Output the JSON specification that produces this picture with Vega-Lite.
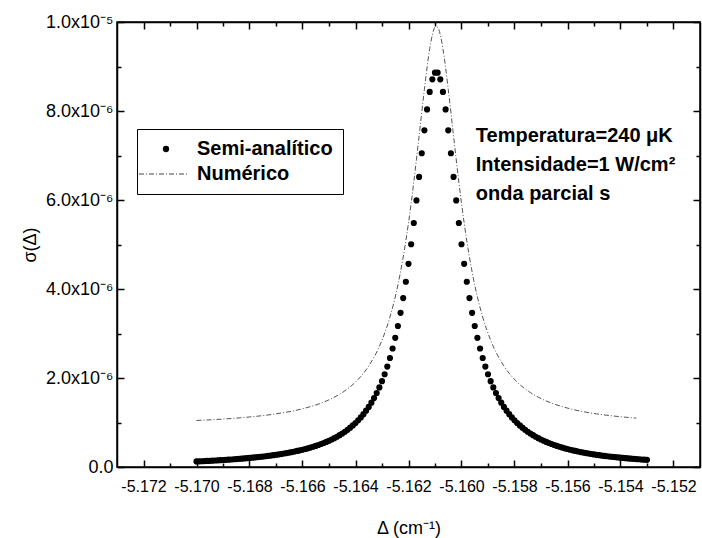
{
  "$schema": "https://vega.github.io/schema/vega-lite/v6.json",
  "width": 583,
  "height": 445,
  "autosize": {"type": "none"},
  "padding": {"left": 117, "top": 22, "right": 2, "bottom": 71},
  "background": "white",
  "config": {
    "font": "Liberation Sans",
    "view": {"stroke": "black", "strokeWidth": 1.5},
    "axis": {"grid": false, "domain": false, "domainColor": "black", "domainWidth": 1.5, "labelFont": "Liberation Sans", "titleFont": "Liberation Sans", "labelColor": "black", "titleColor": "black", "tickColor": "black", "tickWidth": 1.5}
  },
  "datasets": {
    "semi": [
      {"delta":-5.1700,"sigma":0.125e-6},{"delta":-5.1699,"sigma":0.127e-6},{"delta":-5.1698,"sigma":0.130e-6},{"delta":-5.1697,"sigma":0.133e-6},{"delta":-5.1696,"sigma":0.136e-6},
      {"delta":-5.1695,"sigma":0.139e-6},{"delta":-5.1694,"sigma":0.143e-6},{"delta":-5.1693,"sigma":0.146e-6},{"delta":-5.1692,"sigma":0.150e-6},{"delta":-5.1691,"sigma":0.153e-6},
      {"delta":-5.1690,"sigma":0.157e-6},{"delta":-5.1689,"sigma":0.161e-6},{"delta":-5.1688,"sigma":0.165e-6},{"delta":-5.1687,"sigma":0.169e-6},{"delta":-5.1686,"sigma":0.174e-6},
      {"delta":-5.1685,"sigma":0.178e-6},{"delta":-5.1684,"sigma":0.183e-6},{"delta":-5.1683,"sigma":0.188e-6},{"delta":-5.1682,"sigma":0.193e-6},{"delta":-5.1681,"sigma":0.198e-6},
      {"delta":-5.1680,"sigma":0.204e-6},{"delta":-5.1679,"sigma":0.209e-6},{"delta":-5.1678,"sigma":0.215e-6},{"delta":-5.1677,"sigma":0.222e-6},{"delta":-5.1676,"sigma":0.228e-6},
      {"delta":-5.1675,"sigma":0.235e-6},{"delta":-5.1674,"sigma":0.242e-6},{"delta":-5.1673,"sigma":0.250e-6},{"delta":-5.1672,"sigma":0.257e-6},{"delta":-5.1671,"sigma":0.266e-6},
      {"delta":-5.1670,"sigma":0.274e-6},{"delta":-5.1669,"sigma":0.283e-6},{"delta":-5.1668,"sigma":0.293e-6},{"delta":-5.1667,"sigma":0.303e-6},{"delta":-5.1666,"sigma":0.313e-6},
      {"delta":-5.1665,"sigma":0.324e-6},{"delta":-5.1664,"sigma":0.336e-6},{"delta":-5.1663,"sigma":0.348e-6},{"delta":-5.1662,"sigma":0.361e-6},{"delta":-5.1661,"sigma":0.374e-6},
      {"delta":-5.1660,"sigma":0.388e-6},{"delta":-5.1659,"sigma":0.404e-6},{"delta":-5.1658,"sigma":0.420e-6},{"delta":-5.1657,"sigma":0.437e-6},{"delta":-5.1656,"sigma":0.455e-6},
      {"delta":-5.1655,"sigma":0.474e-6},{"delta":-5.1654,"sigma":0.494e-6},{"delta":-5.1653,"sigma":0.516e-6},{"delta":-5.1652,"sigma":0.539e-6},{"delta":-5.1651,"sigma":0.563e-6},
      {"delta":-5.1650,"sigma":0.590e-6},{"delta":-5.1649,"sigma":0.618e-6},{"delta":-5.1648,"sigma":0.648e-6},{"delta":-5.1647,"sigma":0.680e-6},{"delta":-5.1646,"sigma":0.715e-6},
      {"delta":-5.1645,"sigma":0.752e-6},{"delta":-5.1644,"sigma":0.793e-6},{"delta":-5.1643,"sigma":0.836e-6},{"delta":-5.1642,"sigma":0.883e-6},{"delta":-5.1641,"sigma":0.934e-6},
      {"delta":-5.1640,"sigma":0.989e-6},{"delta":-5.1639,"sigma":1.050e-6},{"delta":-5.1638,"sigma":1.115e-6},{"delta":-5.1637,"sigma":1.187e-6},{"delta":-5.1636,"sigma":1.265e-6},
      {"delta":-5.1635,"sigma":1.351e-6},{"delta":-5.1634,"sigma":1.445e-6},{"delta":-5.1633,"sigma":1.549e-6},{"delta":-5.1632,"sigma":1.663e-6},{"delta":-5.1631,"sigma":1.789e-6},
      {"delta":-5.1630,"sigma":1.929e-6},{"delta":-5.1629,"sigma":2.085e-6},{"delta":-5.1628,"sigma":2.257e-6},{"delta":-5.1627,"sigma":2.449e-6},{"delta":-5.1626,"sigma":2.663e-6},
      {"delta":-5.1625,"sigma":2.902e-6},{"delta":-5.1624,"sigma":3.169e-6},{"delta":-5.1623,"sigma":3.465e-6},{"delta":-5.1622,"sigma":3.796e-6},{"delta":-5.1621,"sigma":4.162e-6},
      {"delta":-5.1620,"sigma":4.565e-6},{"delta":-5.1619,"sigma":5.006e-6},{"delta":-5.1618,"sigma":5.483e-6},{"delta":-5.1617,"sigma":5.991e-6},{"delta":-5.1616,"sigma":6.519e-6},
      {"delta":-5.1615,"sigma":7.051e-6},{"delta":-5.1614,"sigma":7.566e-6},{"delta":-5.1613,"sigma":8.036e-6},{"delta":-5.1612,"sigma":8.428e-6},{"delta":-5.1611,"sigma":8.712e-6},
      {"delta":-5.1610,"sigma":8.861e-6},
      {"delta":-5.1609,"sigma":8.861e-6},{"delta":-5.1608,"sigma":8.712e-6},{"delta":-5.1607,"sigma":8.428e-6},{"delta":-5.1606,"sigma":8.036e-6},{"delta":-5.1605,"sigma":7.566e-6},
      {"delta":-5.1604,"sigma":7.051e-6},{"delta":-5.1603,"sigma":6.519e-6},{"delta":-5.1602,"sigma":5.991e-6},{"delta":-5.1601,"sigma":5.483e-6},{"delta":-5.1600,"sigma":5.006e-6},
      {"delta":-5.1599,"sigma":4.565e-6},{"delta":-5.1598,"sigma":4.162e-6},{"delta":-5.1597,"sigma":3.796e-6},{"delta":-5.1596,"sigma":3.465e-6},{"delta":-5.1595,"sigma":3.169e-6},
      {"delta":-5.1594,"sigma":2.902e-6},{"delta":-5.1593,"sigma":2.663e-6},{"delta":-5.1592,"sigma":2.449e-6},{"delta":-5.1591,"sigma":2.257e-6},{"delta":-5.1590,"sigma":2.085e-6},
      {"delta":-5.1589,"sigma":1.929e-6},{"delta":-5.1588,"sigma":1.789e-6},{"delta":-5.1587,"sigma":1.663e-6},{"delta":-5.1586,"sigma":1.549e-6},{"delta":-5.1585,"sigma":1.445e-6},
      {"delta":-5.1584,"sigma":1.351e-6},{"delta":-5.1583,"sigma":1.265e-6},{"delta":-5.1582,"sigma":1.187e-6},{"delta":-5.1581,"sigma":1.115e-6},{"delta":-5.1580,"sigma":1.050e-6},
      {"delta":-5.1579,"sigma":0.989e-6},{"delta":-5.1578,"sigma":0.934e-6},{"delta":-5.1577,"sigma":0.883e-6},{"delta":-5.1576,"sigma":0.836e-6},{"delta":-5.1575,"sigma":0.793e-6},
      {"delta":-5.1574,"sigma":0.752e-6},{"delta":-5.1573,"sigma":0.715e-6},{"delta":-5.1572,"sigma":0.680e-6},{"delta":-5.1571,"sigma":0.648e-6},{"delta":-5.1570,"sigma":0.618e-6},
      {"delta":-5.1569,"sigma":0.590e-6},{"delta":-5.1568,"sigma":0.563e-6},{"delta":-5.1567,"sigma":0.539e-6},{"delta":-5.1566,"sigma":0.516e-6},{"delta":-5.1565,"sigma":0.494e-6},
      {"delta":-5.1564,"sigma":0.474e-6},{"delta":-5.1563,"sigma":0.455e-6},{"delta":-5.1562,"sigma":0.437e-6},{"delta":-5.1561,"sigma":0.420e-6},{"delta":-5.1560,"sigma":0.404e-6},
      {"delta":-5.1559,"sigma":0.388e-6},{"delta":-5.1558,"sigma":0.374e-6},{"delta":-5.1557,"sigma":0.361e-6},{"delta":-5.1556,"sigma":0.348e-6},{"delta":-5.1555,"sigma":0.336e-6},
      {"delta":-5.1554,"sigma":0.324e-6},{"delta":-5.1553,"sigma":0.313e-6},{"delta":-5.1552,"sigma":0.303e-6},{"delta":-5.1551,"sigma":0.293e-6},{"delta":-5.1550,"sigma":0.283e-6},
      {"delta":-5.1549,"sigma":0.274e-6},{"delta":-5.1548,"sigma":0.266e-6},{"delta":-5.1547,"sigma":0.257e-6},{"delta":-5.1546,"sigma":0.250e-6},{"delta":-5.1545,"sigma":0.242e-6},
      {"delta":-5.1544,"sigma":0.235e-6},{"delta":-5.1543,"sigma":0.228e-6},{"delta":-5.1542,"sigma":0.222e-6},{"delta":-5.1541,"sigma":0.215e-6},{"delta":-5.1540,"sigma":0.209e-6},
      {"delta":-5.1539,"sigma":0.204e-6},{"delta":-5.1538,"sigma":0.198e-6},{"delta":-5.1537,"sigma":0.193e-6},{"delta":-5.1536,"sigma":0.188e-6},{"delta":-5.1535,"sigma":0.183e-6},
      {"delta":-5.1534,"sigma":0.178e-6},{"delta":-5.1533,"sigma":0.174e-6},{"delta":-5.1532,"sigma":0.169e-6},{"delta":-5.1531,"sigma":0.165e-6},{"delta":-5.1530,"sigma":0.161e-6}
    ],
    "num": [
      {"delta":-5.1700,"sigma":1.045e-6},{"delta":-5.1690,"sigma":1.077e-6},{"delta":-5.1680,"sigma":1.124e-6},{"delta":-5.1670,"sigma":1.194e-6},
      {"delta":-5.1660,"sigma":1.308e-6},{"delta":-5.1650,"sigma":1.510e-6},{"delta":-5.1645,"sigma":1.672e-6},{"delta":-5.1640,"sigma":1.909e-6},
      {"delta":-5.1635,"sigma":2.271e-6},{"delta":-5.1630,"sigma":2.849e-6},{"delta":-5.1627,"sigma":3.369e-6},{"delta":-5.1624,"sigma":4.089e-6},
      {"delta":-5.1622,"sigma":4.716e-6},{"delta":-5.1620,"sigma":5.485e-6},{"delta":-5.1618,"sigma":6.403e-6},{"delta":-5.1616,"sigma":7.439e-6},
      {"delta":-5.1614,"sigma":8.486e-6},{"delta":-5.1612,"sigma":9.40e-6},{"delta":-5.1611,"sigma":9.71e-6},{"delta":-5.1610,"sigma":9.88e-6},
      {"delta":-5.1609,"sigma":9.88e-6},{"delta":-5.1608,"sigma":9.71e-6},{"delta":-5.1607,"sigma":9.40e-6},{"delta":-5.1605,"sigma":8.486e-6},
      {"delta":-5.1603,"sigma":7.439e-6},{"delta":-5.1601,"sigma":6.403e-6},{"delta":-5.1599,"sigma":5.485e-6},{"delta":-5.1597,"sigma":4.716e-6},
      {"delta":-5.1595,"sigma":4.089e-6},{"delta":-5.1592,"sigma":3.369e-6},{"delta":-5.1589,"sigma":2.849e-6},{"delta":-5.1584,"sigma":2.271e-6},
      {"delta":-5.1579,"sigma":1.909e-6},{"delta":-5.1574,"sigma":1.672e-6},{"delta":-5.1569,"sigma":1.510e-6},{"delta":-5.1559,"sigma":1.308e-6},
      {"delta":-5.1549,"sigma":1.194e-6},{"delta":-5.1539,"sigma":1.124e-6},{"delta":-5.1534,"sigma":1.098e-6}
    ]
  },
  "layer": [
    {
      "data": {"name": "semi"},
      "mark": {"type": "point", "filled": true, "size": 38, "color": "black", "opacity": 1},
      "encoding": {
        "x": {"field": "delta", "type": "quantitative",
          "scale": {"domain": [-5.173, -5.151], "nice": false, "zero": false},
          "axis": {"orient": "bottom", "values": [-5.172, -5.17, -5.168, -5.166, -5.164, -5.162, -5.16, -5.158, -5.156, -5.154, -5.152],
            "domain": true, "ticks": false, "labelExpr": "'-' + format(-datum.value, '.3f')", "labelFontSize": 16, "labelPadding": 11,
            "labelFlush": false, "labelOverlap": false, "title": "Δ (cm⁻¹)", "titleFontSize": 18, "titleFontWeight": "normal", "titlePadding": 25}},
        "y": {"field": "sigma", "type": "quantitative",
          "scale": {"domain": [0, 1e-5], "nice": false, "zero": false},
          "axis": {"orient": "left", "values": [0, 2e-6, 4e-6, 6e-6, 8e-6, 1e-5], "domain": true, "ticks": false,
            "labelExpr": "datum.value === 0 ? '0.0' : (datum.value > 9.5e-6 ? '1.0x10⁻⁵' : format(datum.value * 1e6, '.1f') + 'x10⁻⁶')",
            "labelFontSize": 18, "labelPadding": 4, "labelFlush": false, "labelOverlap": false,
            "title": "σ(Δ)", "titleFontSize": 18, "titleFontWeight": "normal", "titlePadding": 6}},
        "shape": {"datum": "Semi-analítico", "type": "nominal",
          "scale": {"domain": ["Semi-analítico", "Numérico"], "range": ["circle", "M0,0"]},
          "legend": {"orient": "none", "legendX": 20, "legendY": 107, "title": null, "padding": 10,
            "strokeColor": "black", "fillColor": "white", "cornerRadius": 0, "zindex": 1,
            "labelFont": "Liberation Sans", "labelFontSize": 20, "labelFontWeight": "bold", "labelColor": "black",
            "symbolSize": 40, "symbolOffset": 9, "labelOffset": 21, "rowPadding": 5}}
      }
    },
    {
      "data": {"name": "num"},
      "mark": {"type": "line", "color": "#555555", "strokeWidth": 1, "interpolate": "monotone"},
      "encoding": {
        "x": {"field": "delta", "type": "quantitative",
          "axis": {"orient": "bottom", "offset": -7, "values": [-5.172, -5.17, -5.168, -5.166, -5.164, -5.162, -5.16, -5.158, -5.156, -5.154, -5.152],
            "labels": false, "ticks": true, "tickSize": 7, "title": null}},
        "y": {"field": "sigma", "type": "quantitative",
          "axis": {"orient": "left", "offset": -7, "values": [0, 2e-6, 4e-6, 6e-6, 8e-6, 1e-5], "labels": false, "ticks": true, "tickSize": 7, "title": null}},
        "strokeDash": {"datum": "Numérico", "type": "nominal",
          "scale": {"domain": ["Numérico"], "range": [[5, 2, 1, 2]]},
          "legend": {"orient": "none", "legendX": 21, "legendY": 126, "title": null, "padding": 0,
            "strokeColor": null, "fillColor": null, "zindex": 2,
            "symbolType": "stroke", "symbolSize": 2500, "symbolStrokeWidth": 1.2, "symbolStrokeColor": "#444444", "symbolOffset": 0,
            "labelFontSize": 1, "labelOpacity": 0, "labelOffset": 0, "labelLimit": 1}}
      }
    },
    {
      "data": {"name": "num"},
      "mark": {"type": "point", "opacity": 0},
      "encoding": {
        "x": {"field": "delta", "type": "quantitative",
          "axis": {"orient": "bottom", "offset": -4, "values": [-5.171, -5.169, -5.167, -5.165, -5.163, -5.161, -5.159, -5.157, -5.155, -5.153],
            "labels": false, "ticks": true, "tickSize": 4, "title": null}},
        "y": {"field": "sigma", "type": "quantitative",
          "axis": {"orient": "left", "offset": -4, "values": [1e-6, 3e-6, 5e-6, 7e-6, 9e-6], "labels": false, "ticks": true, "tickSize": 4, "title": null}}
      }
    },
    {
      "data": {"name": "num"},
      "mark": {"type": "point", "opacity": 0},
      "encoding": {
        "x": {"field": "delta", "type": "quantitative",
          "axis": {"orient": "top", "offset": -7, "values": [-5.172, -5.17, -5.168, -5.166, -5.164, -5.162, -5.16, -5.158, -5.156, -5.154, -5.152],
            "labels": false, "ticks": true, "tickSize": 7, "title": null}},
        "y": {"field": "sigma", "type": "quantitative",
          "axis": {"orient": "right", "offset": -7, "values": [0, 2e-6, 4e-6, 6e-6, 8e-6, 1e-5], "labels": false, "ticks": true, "tickSize": 7, "title": null}}
      }
    },
    {
      "data": {"name": "num"},
      "mark": {"type": "point", "opacity": 0},
      "encoding": {
        "x": {"field": "delta", "type": "quantitative",
          "axis": {"orient": "top", "offset": -4, "values": [-5.171, -5.169, -5.167, -5.165, -5.163, -5.161, -5.159, -5.157, -5.155, -5.153],
            "labels": false, "ticks": true, "tickSize": 4, "title": null}},
        "y": {"field": "sigma", "type": "quantitative",
          "axis": {"orient": "right", "offset": -4, "values": [1e-6, 3e-6, 5e-6, 7e-6, 9e-6], "labels": false, "ticks": true, "tickSize": 4, "title": null}}
      }
    },
    {
      "data": {"name": "num"},
      "mark": {"type": "point", "opacity": 0},
      "encoding": {
        "x": {"field": "delta", "type": "quantitative",
          "axis": {"orient": "top", "domain": true, "labels": false, "ticks": false, "title": null}},
        "y": {"field": "sigma", "type": "quantitative",
          "axis": {"orient": "right", "domain": true, "labels": false, "ticks": false, "title": null}}
      }
    },
    {
      "data": {"values": [{}]},
      "mark": {"type": "text", "align": "left", "baseline": "alphabetic", "font": "Liberation Sans", "fontSize": 20, "fontWeight": "bold", "lineHeight": 29, "color": "black"},
      "encoding": {
        "x": {"datum": -5.15946, "type": "quantitative", "axis": null},
        "y": {"datum": 7.303e-6, "type": "quantitative", "axis": null},
        "text": {"value": ["Temperatura=240 μK", "Intensidade=1 W/cm²", "onda parcial s"]}
      }
    }
  ],
  "resolve": {"axis": {"x": "independent", "y": "independent"}}
}
